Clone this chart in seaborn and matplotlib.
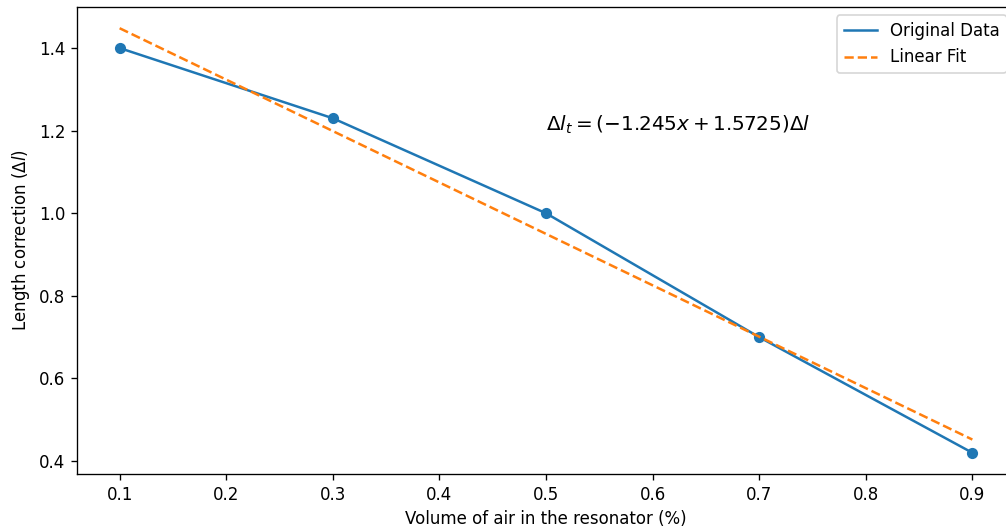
import numpy as np
import matplotlib.pyplot as plt
import seaborn as sns

# Data
volume = [0.1, 0.3, 0.5, 0.7, 0.9]
correction = [1.40, 1.23, 1.00, 0.70, 0.42]
slope = -1.245
intercept = 1.5725

fit = [slope * v + intercept for v in volume]

fig = plt.figure(figsize=(1006 / 120, 529 / 120), dpi=120)
ax = fig.add_axes([77 / 1006, 55 / 529, 938 / 1006, 467 / 529])

sns.lineplot(x=volume, y=correction, ax=ax, label='Original Data', color='C0')
sns.scatterplot(x=volume, y=correction, ax=ax, color='C0', s=45, linewidth=0)
sns.lineplot(x=volume, y=fit, ax=ax, label='Linear Fit', color='C1', linestyle='--')

ax.text(0.5, 1.2, r'$\Delta l_t = (-1.245x + 1.5725)\Delta l$', fontsize=12)

ax.set_xlabel('Volume of air in the resonator (%)')
ax.set_ylabel(r'Length correction ($\Delta l$)')
ax.legend(loc='upper right')

fig.savefig('out.png', dpi=120)
